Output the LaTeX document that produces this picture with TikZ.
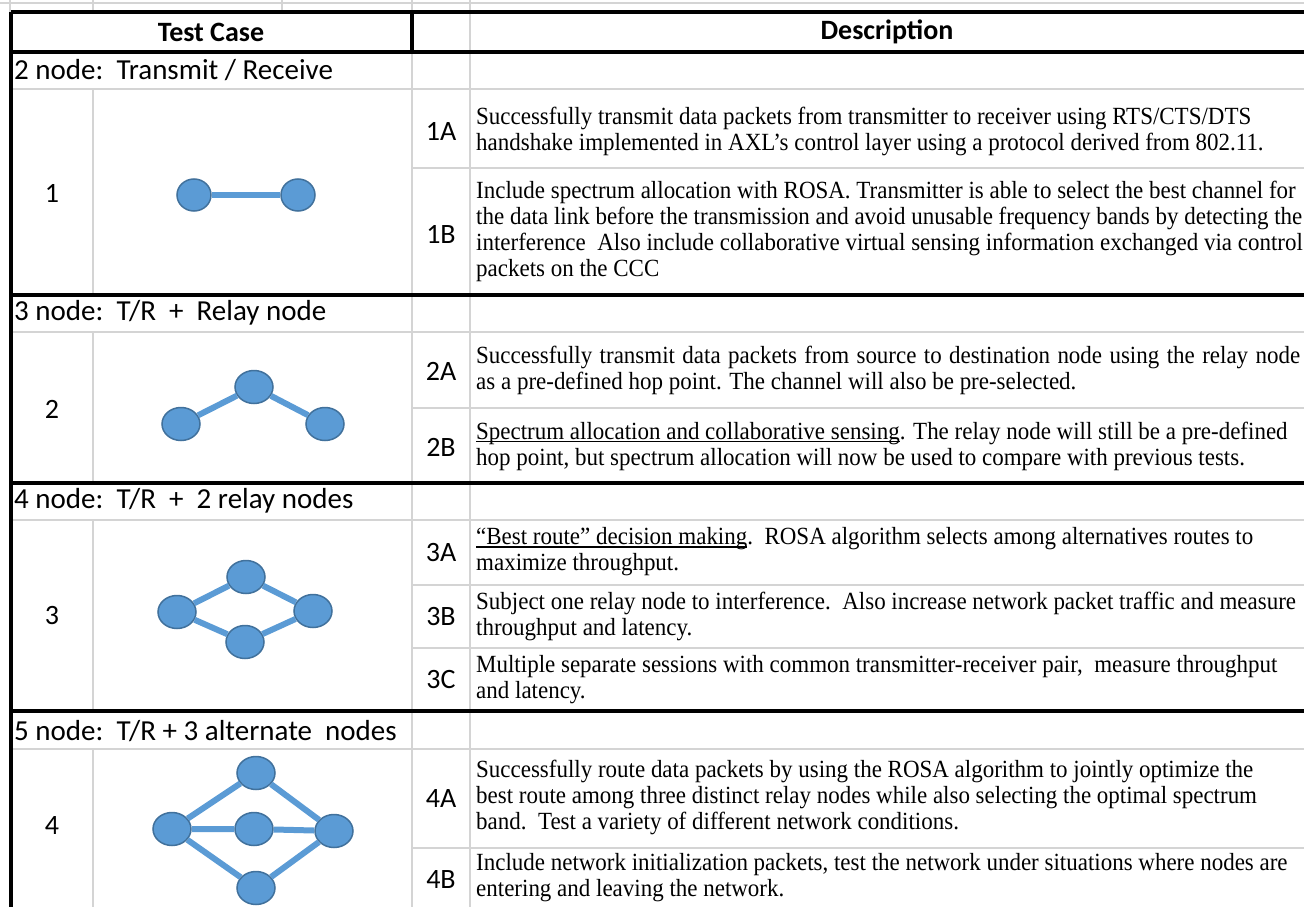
\documentclass[tikz,border=0pt]{standalone}
\usepackage{fontspec}
\setmainfont[FakeStretch=0.93]{Liberation Serif}
\newfontfamily\calibri{Carlito}
\newcommand\lowline[1]{\leavevmode\setbox0\hbox{#1}\rlap{\rule[-3pt]{\wd0}{1.5pt}}\box0}
\usepackage{tikz}
\usetikzlibrary{shapes.geometric}
\usetikzlibrary{positioning}
\definecolor{gridgrey}{HTML}{D4D4D4}
\definecolor{nodeblue}{HTML}{5B9BD5}
\definecolor{nodeedge}{HTML}{41719C}

\begin{document}
\begin{tikzpicture}[x=1pt, y=-1pt,
	vert/.style={draw=nodeedge, fill=nodeblue, line width=1.5pt, ellipse, inner sep=0, minimum width=38pt, minimum height=33pt},
	link/.style={nodeblue, line width=6pt},
	grid/.style={gridgrey, line width=2.5pt},
	rule/.style={black, line width=3.5pt},
	lab/.style={font=\calibri\fontsize{28}{30}\selectfont, inner sep=0},
	sect/.style={font=\calibri\fontsize{29}{31}\selectfont, inner sep=0, anchor=west},
	desc/.style={font=\fontsize{24.7}{26}\selectfont, align=left, anchor=west, inner sep=0}]
	\useasboundingbox (0,0) rectangle (1304,907);
	% grid lines
	\draw[grid] (0,3) -- (1304,3);
	\foreach \x in {10,93,282,412,470} \draw[grid] (\x,0) -- (\x,12);
	\draw[grid] (470,12) -- (470,907);
	\draw[grid] (412,52) -- (412,907);
	\foreach \a/\b in {89/295, 332/483, 520/711, 749/907} \draw[grid] (93,\a) -- (93,\b);
	\foreach \y in {89,332,520,749} \draw[grid] (11,\y) -- (1304,\y);
	\foreach \y in {168,408,585,648,848} \draw[grid] (412,\y) -- (1304,\y);
	\foreach \y in {12,52,295,483,711} \draw[rule] (11,\y) -- (1304,\y);
	\draw[rule] (11,12) -- (11,907);
	\draw[rule] (412,12) -- (412,52);

	% header
	\node[lab, font=\calibri\bfseries\fontsize{28}{30}\selectfont] (tc) at (211,32) {Test Case};
	\node[lab, font=\calibri\bfseries\fontsize{28}{30}\selectfont] (dc) at (887,32) {Description};

	% section rows
	\node[sect] (s1) at (14,70) {2 node:\ \ Transmit / Receive};
	\node[sect] (s2) at (14,313) {3 node:\ \ T/R\ \ +\ \ Relay node};
	\node[sect] (s3) at (14,501) {4 node:\ \ T/R\ \ +\ \ 2 relay nodes};
	\node[sect] (s4) at (14,731) {5 node:\ \ T/R + 3 alternate\ \ nodes};

	\node[lab] (n1) at (52,193) {1};
	\node[lab] (n2) at (52,409) {2};
	\node[lab] (n3) at (52,616) {3};
	\node[lab] (n4) at (52,826) {4};

	% case labels
	\node[lab] (l1a) at (441,131) {1A};
	\node[lab] (l1b) at (441,234) {1B};
	\node[lab] (l2a) at (441,371) {2A};
	\node[lab] (l2b) at (441,447) {2B};
	\node[lab] (l3a) at (441,553) {3A};
	\node[lab] (l3b) at (441,617) {3B};
	\node[lab] (l3c) at (441,680) {3C};
	\node[lab] (l4a) at (441,799) {4A};
	\node[lab] (l4b) at (441,880) {4B};

	% descriptions
	\node[desc] (d1a) at (476,131) {Successfully transmit data packets from transmitter to receiver using RTS/CTS/DTS\\
		handshake implemented in AXL’s control layer using a protocol derived from 802.11.};
	\node[desc] (d1b) at (476,231) {Include spectrum allocation with ROSA. Transmitter is able to select the best channel for\\
		the data link before the transmission and avoid unusable frequency bands by detecting the\\
		interference\ \ Also include collaborative virtual sensing information exchanged via control\\
		packets on the CCC};
	\node[desc] (d2a) at (476,370) {\makebox[824pt][s]{Successfully transmit data packets from source to destination node using the relay node}\\
		as a pre-defined hop point. The channel will also be pre-selected.};
	\node[desc] (d2b) at (476,446) {\lowline{Spectrum allocation and collaborative sensing}. The relay node will still be a pre-defined\\
		hop point, but spectrum allocation will now be used to compare with previous tests.};
	\node[desc] (d3a) at (476,552) {\lowline{“Best route” decision making}.\ \ ROSA algorithm selects among alternatives routes to\\
		maximize throughput.};
	\node[desc] (d3b) at (476,616) {Subject one relay node to interference.\ \ Also increase network packet traffic and measure\\
		throughput and latency.};
	\node[desc] (d3c) at (476,680) {Multiple separate sessions with common transmitter-receiver pair,\ \ measure throughput\\
		and latency.};
	\node[desc] (d4a) at (476,797) {Successfully route data packets by using the ROSA algorithm to jointly optimize the\\
		best route among three distinct relay nodes while also selecting the optimal spectrum\\
		band.\ \ Test a variety of different network conditions.};
	\node[desc] (d4b) at (476,878) {Include network initialization packets, test the network under situations where nodes are\\
		entering and leaving the network.};

	% networks
	\node[vert, minimum width=34pt, minimum height=32pt] (11) at (194,195) {};
	\node[vert, minimum width=34pt, minimum height=32pt] (12) at (298,195) {};
	\draw[link] (11) -- (12);

	\node[vert] (21) at (181,424) {};
	\node[vert] (22) at (254,387) {};
	\node[vert] (23) at (325,424) {};
	\draw[link] (21) -- (22) -- (23);

	\node[vert] (31) at (177,612) {};
	\node[vert] (32) at (246,577) {};
	\node[vert] (33) at (313,611) {};
	\node[vert] (34) at (245,642) {};
	\draw[link] (31) -- (32) -- (33) -- (34) -- (31);

	\node[vert] (41) at (256,773) {};
	\node[vert] (42) at (172,829) {};
	\node[vert] (43) at (254,829) {};
	\node[vert] (44) at (334,831) {};
	\node[vert] (45) at (256,888) {};
	\draw[link] (42) -- (41) -- (44) -- (45) -- (42) -- (43) -- (44);
\end{tikzpicture}
\end{document}
